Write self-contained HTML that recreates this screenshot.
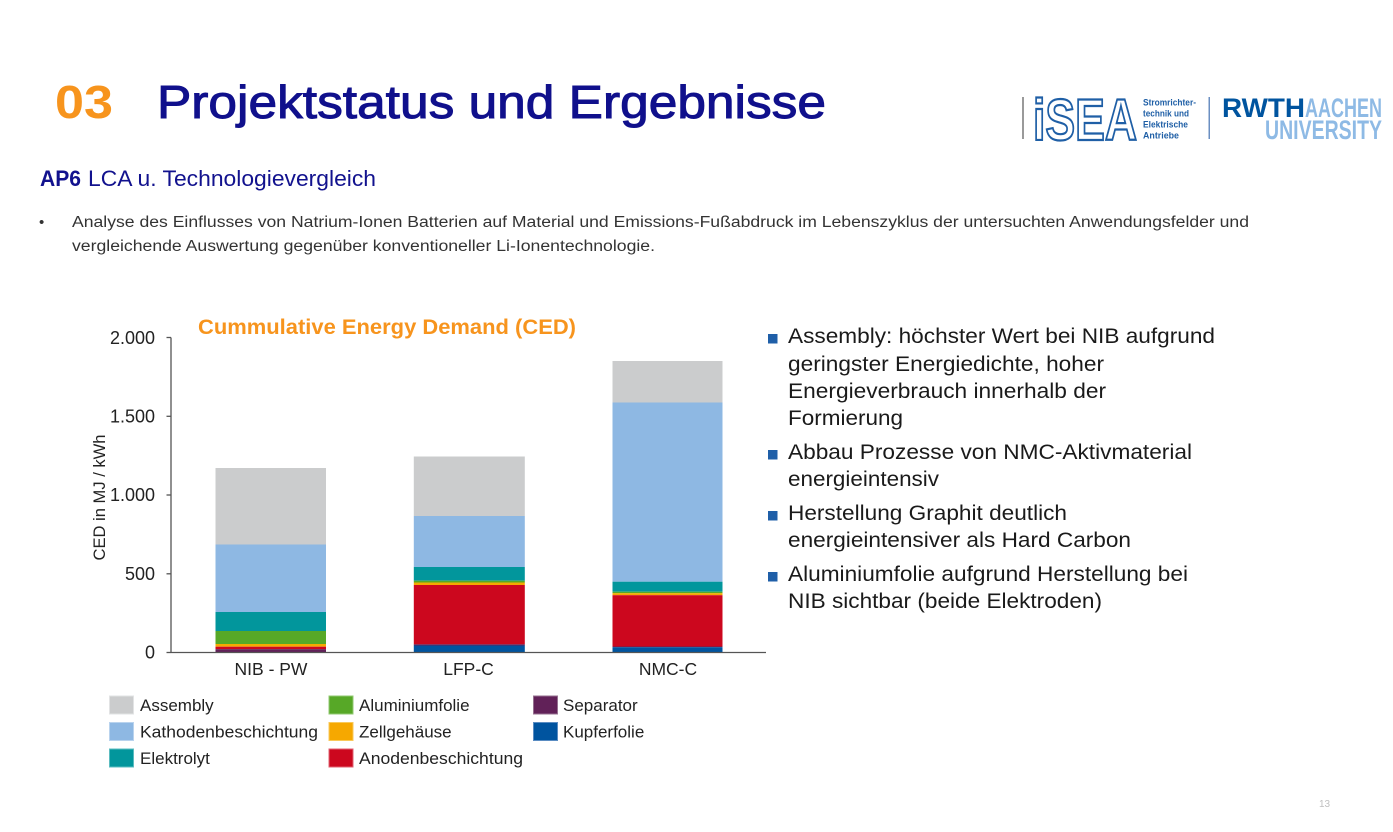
<!DOCTYPE html>
<html><head><meta charset="utf-8"><style>
html,body{margin:0;padding:0;background:#fff;}
svg{display:block;}
text{font-family:"Liberation Sans",Arial,sans-serif;}
</style></head><body>
<svg width="1393" height="832" viewBox="0 0 1393 832" xmlns="http://www.w3.org/2000/svg">
<rect width="1393" height="832" fill="#fff"/>

<!-- Title -->
<text x="55" y="118" font-size="46" font-weight="bold" fill="#f7941d" textLength="58" lengthAdjust="spacingAndGlyphs">03</text>
<text x="157" y="118" font-size="46" fill="#10108c" stroke="#10108c" stroke-width="1" textLength="669" lengthAdjust="spacingAndGlyphs">Projektstatus und Ergebnisse</text>

<!-- Logos -->
<rect x="1022" y="97" width="2" height="42" fill="#9a9a9a"/>
<text x="1033" y="140" font-size="58" font-weight="bold" fill="#fff" stroke="#1f5fa6" stroke-width="2.2" textLength="104" lengthAdjust="spacingAndGlyphs">iSEA</text>
<g font-size="9.5" font-weight="bold" fill="#1f5fa6">
<text x="1143" y="105.5" textLength="53" lengthAdjust="spacingAndGlyphs">Stromrichter-</text>
<text x="1143" y="116.5" textLength="46" lengthAdjust="spacingAndGlyphs">technik und</text>
<text x="1143" y="127.5" textLength="45" lengthAdjust="spacingAndGlyphs">Elektrische</text>
<text x="1143" y="138.5" textLength="36" lengthAdjust="spacingAndGlyphs">Antriebe</text>
</g>
<rect x="1208.5" y="97" width="1.5" height="42" fill="#6b8fc2"/>
<text x="1222" y="117" font-size="27" font-weight="bold" fill="#00549f" textLength="83" lengthAdjust="spacingAndGlyphs">RWTH</text>
<text x="1305" y="117" font-size="27" font-weight="bold" fill="#8ebae5" textLength="77" lengthAdjust="spacingAndGlyphs">AACHEN</text>
<text x="1265" y="139" font-size="27" font-weight="bold" fill="#8ebae5" textLength="117" lengthAdjust="spacingAndGlyphs">UNIVERSITY</text>

<!-- Subtitle -->
<text x="40" y="186" font-size="22" fill="#12128e"><tspan font-weight="bold" textLength="41" lengthAdjust="spacingAndGlyphs">AP6</tspan></text>
<text x="88" y="186" font-size="22" fill="#12128e" textLength="288" lengthAdjust="spacingAndGlyphs">LCA u. Technologievergleich</text>

<!-- Bullet paragraph -->
<text x="39" y="227" font-size="15" fill="#333">•</text>
<text x="72" y="227" font-size="15.5" fill="#333" textLength="1177" lengthAdjust="spacingAndGlyphs">Analyse des Einflusses von Natrium-Ionen Batterien auf Material und Emissions-Fußabdruck im Lebenszyklus der untersuchten Anwendungsfelder und</text>
<text x="72" y="251" font-size="15.5" fill="#333" textLength="583" lengthAdjust="spacingAndGlyphs">vergleichende Auswertung gegenüber konventioneller Li-Ionentechnologie.</text>

<!-- Chart title -->
<text x="198" y="334" font-size="21" font-weight="bold" fill="#f7941d" textLength="378" lengthAdjust="spacingAndGlyphs">Cummulative Energy Demand (CED)</text>

<!-- Bars: NIB-PW -->
<g>
<rect x="215.5" y="468" width="110.5" height="76.5" fill="#cbcccd"/>
<rect x="215.5" y="544.5" width="110.5" height="67.5" fill="#8eb8e3"/>
<rect x="215.5" y="612" width="110.5" height="19" fill="#02969c"/>
<rect x="215.5" y="631" width="110.5" height="13" fill="#57a827"/>
<rect x="215.5" y="644" width="110.5" height="2.7" fill="#f6a800"/>
<rect x="215.5" y="646.7" width="110.5" height="2.5" fill="#cc071e"/>
<rect x="215.5" y="649.2" width="110.5" height="3.3" fill="#612158"/>
</g>
<!-- LFP-C -->
<g>
<rect x="413.8" y="456.5" width="111" height="59.5" fill="#cbcccd"/>
<rect x="413.8" y="516" width="111" height="51" fill="#8eb8e3"/>
<rect x="413.8" y="567" width="111" height="13.7" fill="#02969c"/>
<rect x="413.8" y="580.7" width="111" height="1.8" fill="#57a827"/>
<rect x="413.8" y="582.5" width="111" height="2.5" fill="#f6a800"/>
<rect x="413.8" y="585" width="111" height="59.3" fill="#cc071e"/>
<rect x="413.8" y="644.3" width="111" height="1.2" fill="#612158"/>
<rect x="413.8" y="645.5" width="111" height="7" fill="#00549f"/>
</g>
<!-- NMC-C -->
<g>
<rect x="612.5" y="361" width="110" height="41.5" fill="#cbcccd"/>
<rect x="612.5" y="402.5" width="110" height="179.2" fill="#8eb8e3"/>
<rect x="612.5" y="581.7" width="110" height="10" fill="#02969c"/>
<rect x="612.5" y="591.7" width="110" height="1.5" fill="#57a827"/>
<rect x="612.5" y="593.2" width="110" height="2" fill="#f6a800"/>
<rect x="612.5" y="595.2" width="110" height="51.3" fill="#cc071e"/>
<rect x="612.5" y="646.5" width="110" height="0.7" fill="#612158"/>
<rect x="612.5" y="647.2" width="110" height="5.3" fill="#00549f"/>
</g>

<!-- Axes -->
<g stroke="#555" stroke-width="1.3" fill="none">
<line x1="171" y1="337.5" x2="171" y2="652.5"/>
<line x1="171" y1="652.5" x2="766" y2="652.5"/>
<line x1="166.5" y1="337.5" x2="171" y2="337.5"/>
<line x1="166.5" y1="416.3" x2="171" y2="416.3"/>
<line x1="166.5" y1="495" x2="171" y2="495"/>
<line x1="166.5" y1="573.8" x2="171" y2="573.8"/>
<line x1="166.5" y1="652.5" x2="171" y2="652.5"/>
</g>
<g font-size="18" fill="#222" text-anchor="end">
<text x="155" y="344">2.000</text>
<text x="155" y="422.5">1.500</text>
<text x="155" y="501">1.000</text>
<text x="155" y="580">500</text>
<text x="155" y="658.5">0</text>
</g>
<text transform="translate(105,497.5) rotate(-90)" font-size="17" fill="#222" text-anchor="middle" textLength="126" lengthAdjust="spacingAndGlyphs">CED in MJ / kWh</text>
<g font-size="17.5" fill="#222" text-anchor="middle">
<text x="271" y="675">NIB - PW</text>
<text x="468.5" y="675">LFP-C</text>
<text x="668" y="675">NMC-C</text>
</g>

<!-- Legend -->
<g stroke-width="1">
<rect x="109.5" y="696" width="24" height="18" fill="#cbcccd" stroke="#e2e3e4"/>
<rect x="109.5" y="722.5" width="24" height="18" fill="#8eb8e3" stroke="#b9d3ee"/>
<rect x="109.5" y="749" width="24" height="18" fill="#02969c" stroke="#5bbcc0"/>
<rect x="329" y="696" width="24" height="18" fill="#57a827" stroke="#92c970"/>
<rect x="329" y="722.5" width="24" height="18" fill="#f6a800" stroke="#f9c95a"/>
<rect x="329" y="749" width="24" height="18" fill="#cc071e" stroke="#e06070"/>
<rect x="533.5" y="696" width="24" height="18" fill="#612158" stroke="#95708f"/>
<rect x="533.5" y="722.5" width="24" height="18" fill="#00549f" stroke="#5a8cc2"/>
</g>
<g font-size="17" fill="#222">
<text x="140" y="711">Assembly</text>
<text x="140" y="737.5" textLength="178" lengthAdjust="spacingAndGlyphs">Kathodenbeschichtung</text>
<text x="140" y="764">Elektrolyt</text>
<text x="359" y="711">Aluminiumfolie</text>
<text x="359" y="737.5">Zellgehäuse</text>
<text x="359" y="764" textLength="164" lengthAdjust="spacingAndGlyphs">Anodenbeschichtung</text>
<text x="563" y="711">Separator</text>
<text x="563" y="737.5">Kupferfolie</text>
</g>

<!-- Right bullets -->
<g fill="#1f5fa8">
<rect x="768" y="334" width="9.5" height="9.5"/>
<rect x="768" y="450" width="9.5" height="9.5"/>
<rect x="768" y="511" width="9.5" height="9.5"/>
<rect x="768" y="572" width="9.5" height="9.5"/>
</g>
<g font-size="21" fill="#1a1a1a">
<text x="788" y="343" textLength="427" lengthAdjust="spacingAndGlyphs">Assembly: höchster Wert bei NIB aufgrund</text>
<text x="788" y="371" textLength="316" lengthAdjust="spacingAndGlyphs">geringster Energiedichte, hoher</text>
<text x="788" y="398" textLength="318" lengthAdjust="spacingAndGlyphs">Energieverbrauch innerhalb der</text>
<text x="788" y="425" textLength="115" lengthAdjust="spacingAndGlyphs">Formierung</text>
<text x="788" y="459" textLength="404" lengthAdjust="spacingAndGlyphs">Abbau Prozesse von NMC-Aktivmaterial</text>
<text x="788" y="486" textLength="151" lengthAdjust="spacingAndGlyphs">energieintensiv</text>
<text x="788" y="520" textLength="279" lengthAdjust="spacingAndGlyphs">Herstellung Graphit deutlich</text>
<text x="788" y="547" textLength="343" lengthAdjust="spacingAndGlyphs">energieintensiver als Hard Carbon</text>
<text x="788" y="581" textLength="400" lengthAdjust="spacingAndGlyphs">Aluminiumfolie aufgrund Herstellung bei</text>
<text x="788" y="608" textLength="314" lengthAdjust="spacingAndGlyphs">NIB sichtbar (beide Elektroden)</text>
</g>

<!-- Page number -->
<text x="1319" y="807" font-size="10" fill="#c0c0c0">13</text>
</svg>
</body></html>
